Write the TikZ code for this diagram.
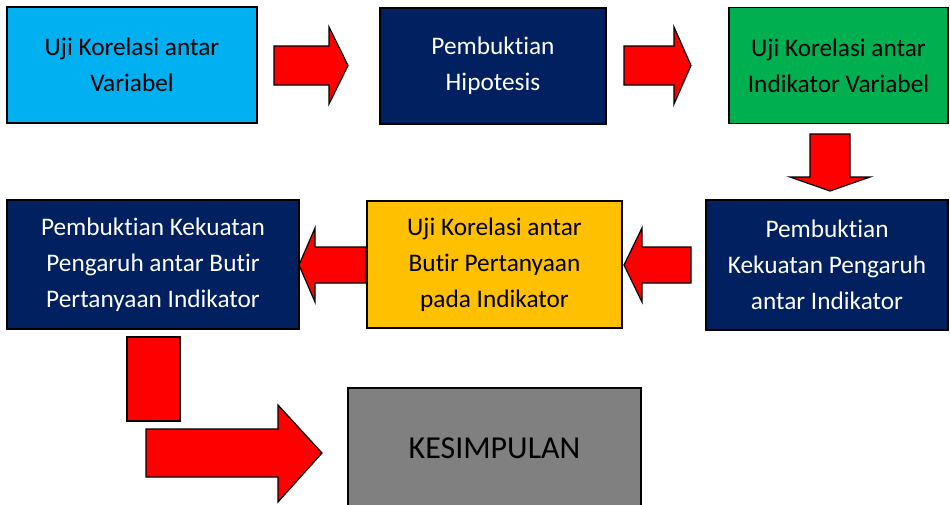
\documentclass[tikz,border=0pt]{standalone}
\usepackage{fontspec}
\setmainfont[Ligatures=NoCommon]{Carlito}
\usepackage{tikz}
\usetikzlibrary{calc}
\definecolor{biru}{HTML}{00B0F0}
\definecolor{navy}{HTML}{002060}
\definecolor{hijau}{HTML}{00B050}
\definecolor{kuning}{HTML}{FFC000}
\definecolor{abu}{HTML}{808080}
\begin{document}
\begin{tikzpicture}[
  x=0.02cm, y=-0.02cm,
  tahap/.style={draw=black, line width=1.1pt, inner sep=0pt, align=center,
                font=\fontsize{14.4}{20.5}\selectfont},
  gelap/.style={tahap, fill=navy, text=white},
  panah/.style={draw=black, fill=red, line width=0.7pt, line join=miter}
]
\useasboundingbox (0,0) rectangle (950,504);

% Baris atas
\node[tahap, fill=biru, minimum width=250*0.02cm, minimum height=116*0.02cm]
  (korvar) at (132,65) {Uji Korelasi antar\\Variabel};
\node[gelap, minimum width=226*0.02cm, minimum height=116*0.02cm]
  (hipo) at (493,66) {Pembuktian\\Hipotesis};
\node[tahap, fill=hijau, minimum width=219*0.02cm, minimum height=116*0.02cm]
  (korind) at (838.5,65.5) {Uji Korelasi antar\\Indikator Variabel};

% Baris tengah
\node[gelap, minimum width=242*0.02cm, minimum height=130*0.02cm]
  (kuatind) at (827,265) {Pembuktian\\Kekuatan Pengaruh\\antar Indikator};
\node[tahap, fill=kuning, minimum width=255*0.02cm, minimum height=127*0.02cm]
  (korbutir) at (494.5,264.5) {Uji Korelasi antar\\Butir Pertanyaan\\pada Indikator};
\node[gelap, minimum width=292*0.02cm, minimum height=129*0.02cm]
  (kuatbutir) at (153,264.5) {Pembuktian Kekuatan\\Pengaruh antar Butir\\Pertanyaan Indikator};

% Kesimpulan
\node[tahap, fill=abu, minimum width=293*0.02cm, minimum height=120*0.02cm,
      font=\fontsize{18.2}{22}\selectfont]
  (simpul) at (494.5,448) {KESIMPULAN};

% Panah ke kanan (baris atas)
\foreach \a/\b/\c in {274/329/348, 624/674/691}{
  \draw[panah] (\a,46) -- (\b,46) -- (\b,27) -- (\c,65.5) -- (\b,104)
    -- (\b,85) -- (\a,85) -- cycle;
}

% Panah ke bawah
\draw[panah] (810,134) -- (850,134) -- (850,177) -- (870,177) -- (830,191)
  -- (790,177) -- (810,177) -- cycle;

% Panah ke kiri (baris tengah)
\foreach \a/\b/\c in {691/642/624, 366/315/299}{
  \draw[panah] (\a,247) -- (\b,247) -- (\b,228) -- (\c,265) -- (\b,302)
    -- (\b,283) -- (\a,283) -- cycle;
}

% Panah belok ke kesimpulan
\draw[panah] (127,337) rectangle (180,421);
\draw[panah] (146,429) -- (278,429) -- (278,405) -- (322,453) -- (278,502)
  -- (278,477) -- (146,477) -- cycle;

\end{tikzpicture}
\end{document}
